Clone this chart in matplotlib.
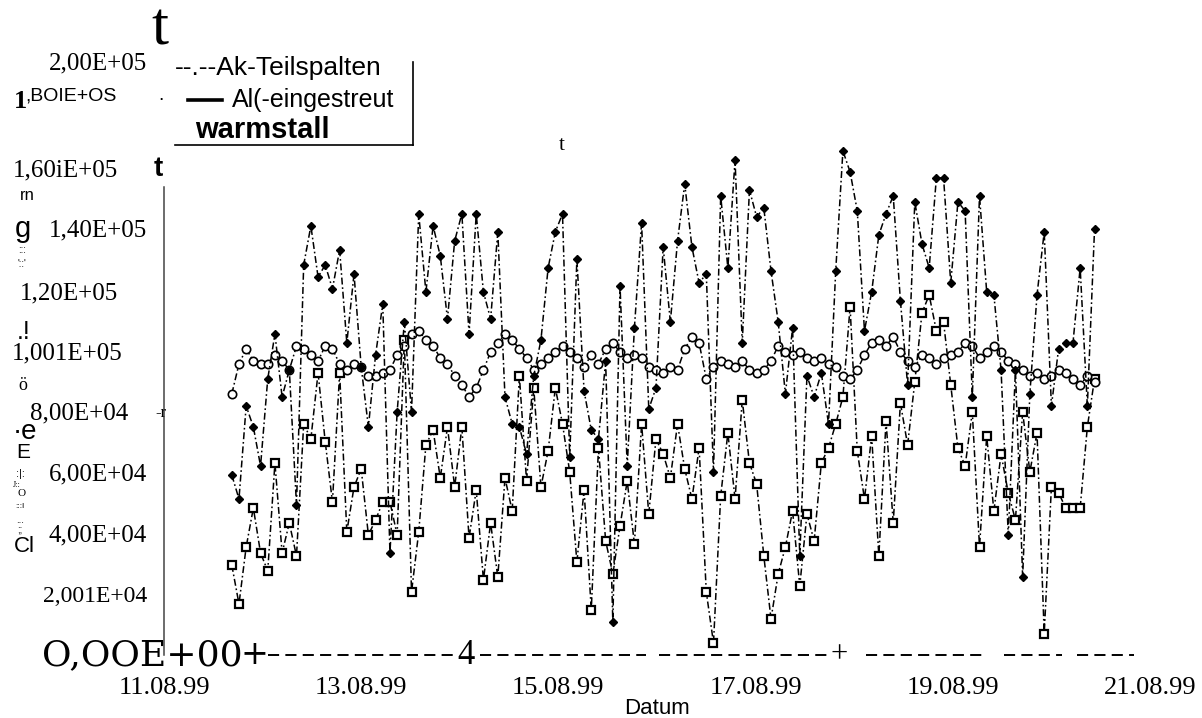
import numpy as np
import pandas as pd
import matplotlib
matplotlib.use("Agg")
import matplotlib.pyplot as plt
import matplotlib.dates as mdates
from matplotlib.lines import Line2D

plt.rcParams['lines.scale_dashes'] = False

SERIF = ['Liberation Serif', 'DejaVu Serif']
SANS = ['Liberation Sans', 'DejaVu Sans']

# Messzeitpunkte (ca. alle 105 min)
zeit = pd.date_range('1999-08-11 16:30', periods=121, freq='105min')

# Werte in Tausend
ak_teilspalten = np.array([
    60, 52, 83, 76, 63, 92, 107, 86, 95, 50,
    130, 143, 126, 130, 122, 135, 104, 127, 96, 76,
    100, 117, 34, 81, 111, 81, 147, 121, 143, 133,
    112, 138, 147, 107, 147, 121, 112, 141, 86, 77,
    76, 67, 93, 105, 129, 141, 147, 66, 132, 88,
    75, 72, 98, 11, 123, 63, 109, 144, 82, 89,
    136, 111, 138, 157, 136, 124, 127, 61, 153, 129,
    165, 104, 155, 146, 149, 128, 111, 87, 109, 33,
    93, 86, 94, 77, 128, 168, 161, 148, 108, 121,
    140, 147, 153, 118, 90, 151, 137, 129, 159, 159,
    124, 151, 148, 86, 153, 121, 120, 95, 40, 95,
    26, 87, 120, 141, 83, 102, 104, 104, 129, 83,
    142]) * 1000

warmstall = np.array([
    87, 97, 102, 98, 97, 97, 100, 98, 95, 103,
    102, 100, 98, 103, 102, 97, 95, 97, 96, 93,
    93, 94, 95, 100, 103, 107, 108, 105, 103, 99,
    97, 93, 90, 86, 89, 95, 101, 104, 107, 105,
    102, 99, 95, 97, 99, 101, 103, 101, 99, 96,
    100, 97, 102, 104, 101, 99, 100, 99, 96, 95,
    94, 96, 95, 102, 106, 104, 92, 96, 98, 97,
    96, 98, 95, 94, 95, 98, 103, 101, 100, 101,
    99, 98, 99, 97, 96, 93, 92, 95, 100, 104,
    105, 103, 106, 101, 98, 96, 100, 99, 97, 99,
    100, 101, 104, 103, 99, 101, 103, 101, 98, 97,
    95, 93, 94, 92, 93, 95, 94, 92, 90, 93,
    91]) * 1000

ak_eingestreut = np.array([
    30, 17, 36, 49, 34, 28, 64, 34, 44, 33,
    77, 72, 94, 71, 51, 94, 41, 56, 62, 40,
    45, 51, 51, 40, 105, 21, 41, 70, 75, 59,
    76, 56, 76, 39, 55, 25, 44, 26, 59, 48,
    93, 58, 89, 56, 68, 89, 77, 61, 31, 55,
    15, 69, 38, 27, 43, 58, 37, 77, 47, 72,
    67, 59, 77, 62, 52, 69, 21, 4, 53, 74,
    52, 85, 64, 57, 33, 12, 27, 36, 48, 23,
    47, 38, 64, 69, 77, 86, 116, 68, 52, 73,
    33, 78, 44, 84, 70, 91, 114, 120, 108, 111,
    90, 69, 63, 81, 36, 73, 48, 67, 54, 45,
    81, 61, 74, 7, 56, 54, 49, 49, 49, 76,
    92]) * 1000

datum_ticks = pd.date_range('1999-08-11', '1999-08-21', freq='2D')

W, H = 1202, 718
fig = plt.figure(figsize=(W / 100, H / 100), dpi=100)
fig.patch.set_facecolor('white')
ax = fig.add_axes([164 / W, 1 - 655 / H, 986 / W, 508 / H])
ax.set_xlim(pd.Timestamp('1999-08-11'), pd.Timestamp('1999-08-21'))
ax.set_ylim(0, 169300)

dd = dict(color='black', lw=1.1, dashes=(5, 2, 1.2, 2))
ax.plot(zeit, ak_eingestreut, marker='s', ms=5.5, mfc='white', mec='black', mew=1.6, **dd)
ax.plot(zeit, warmstall, marker='o', ms=6, mfc='white', mec='black', mew=1.2, **dd)
ax.plot(zeit, ak_teilspalten, marker='D', ms=4.5, mfc='black', mec='black', **dd)

for s in ax.spines.values():
    s.set_visible(False)
ax.set_yticks([])
ax.set_xticks(datum_ticks)
ax.xaxis.set_major_formatter(mdates.DateFormatter('%d.%m.%y'))
ax.tick_params(axis='x', length=0, pad=16)
for lab in ax.get_xticklabels():
    lab.set_fontfamily(SERIF)
    lab.set_fontsize(19)

# y-Achse als Linie
ax.plot([datum_ticks[0], datum_ticks[0]], [0, 156000], color='#444444', lw=1.1, clip_on=False)


def put(s, x, y, size, fam=SERIF, ha='left', weight='normal'):
    fig.text(x / W, 1 - y / H, s, fontsize=size, family=fam, ha=ha, va='center',
             weight=weight)


def hline(x0, x1, y, lw=1.2, **kw):
    fig.add_artist(Line2D([x0 / W, x1 / W], [1 - y / H, 1 - y / H], color='black', lw=lw, **kw))


# Achsenbeschriftungen (wie im Scan)
ylabels = [("2,00E+05", 147, 63, 18), ("1,60iE+05", 118, 170, 18), ("1,40E+05", 147, 230, 18),
           ("1,20E+05", 118, 293, 18), ("1,001E+05", 123, 353, 18), ("8,00E+04", 128, 413, 18),
           ("6,00E+04", 147, 474, 18), ("4,00E+04", 147, 535, 18), ("2,001E+04", 147, 597, 17)]
for txt, xr, yy, sz in ylabels:
    put(txt, xr, yy, sz, ha='right')
put("1", 14, 101, 19, weight='bold')
put(",BOIE+OS", 25, 96, 14, fam=SANS)
put(".", 158, 96, 14, fam=SANS)
put("O,OOE+00", 42, 655, 26, fam=['DejaVu Serif'])
put("+", 240, 655, 24, fam=['DejaVu Serif'])
put("4", 457, 655, 25)
put("+", 830, 655, 22)
for x0, x1 in [(268, 455), (480, 646), (659, 830), (866, 985), (1004, 1062), (1077, 1134)]:
    hline(x0, x1, 655, lw=1.4, dashes=(8, 4.5))

put("Datum", 657, 709, 16, fam=SANS, ha='center')

# Streuzeichen vom Scan
put("t", 151, 30, 44)
put("t", 154, 169, 20, fam=SANS, weight='bold')
put("t", 559, 146, 15)
put("-r", 155, 413, 12)
for txt, x, y, sz, fam in [("rn", 20, 195, 12, SANS), ("g", 15, 229, 21, SANS), (":::", 18, 250, 7, SANS),
                           ("'::'", 17, 264, 7, SANS), (".!", 17, 332, 18, SANS), ("ö", 18, 386, 13, SERIF),
                           ("·e", 13, 432, 20, SANS), ("E", 16, 453, 15, SANS), (":|:", 16, 474, 8, SANS),
                           ("J::", 13, 485, 6, SERIF), ("O", 17, 494, 8, SERIF), (":::l", 15, 507, 6, SANS),
                           ("...", 16, 520, 7, SANS), (";;", 17, 529, 7, SANS), ("Cl", 14, 546, 16, SANS)]:
    put(txt, x, y, sz, fam=fam)

# Legende
put("--.--Ak-Teilspalten", 175, 68, 19, fam=SANS)
hline(188, 222, 100, lw=2.6)
put("Al(-eingestreut", 232, 100, 18, fam=SANS)
put("warmstall", 195, 130, 21, fam=SANS, weight='bold')
fig.add_artist(Line2D([413 / W, 413 / W], [1 - 62 / H, 1 - 145 / H], color='black', lw=1.2))
hline(175, 413, 145)

fig.savefig('out.png', dpi=100, facecolor='white')
